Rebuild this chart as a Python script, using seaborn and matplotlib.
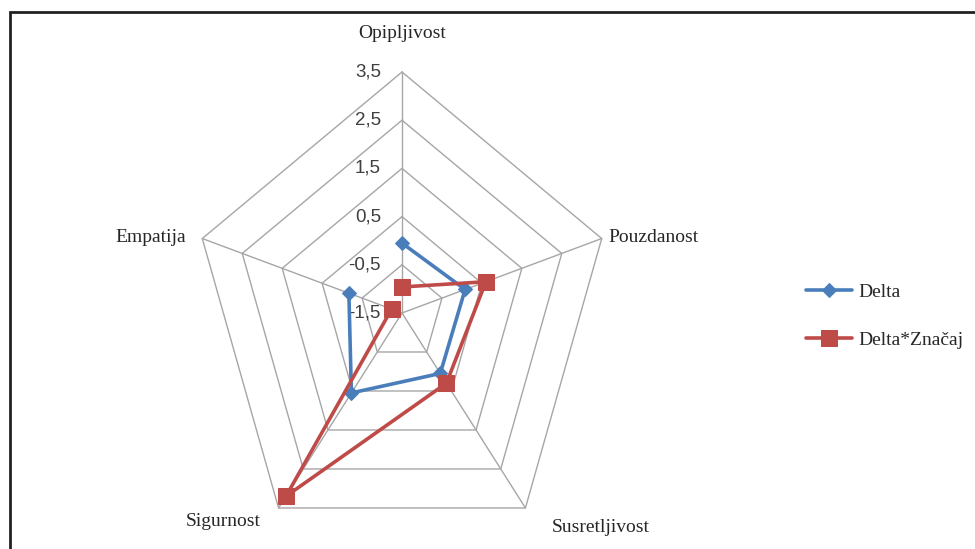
import matplotlib
matplotlib.use('Agg')
import matplotlib.pyplot as plt
import seaborn as sns
import numpy as np
import pandas as pd

categories = ['Opipljivost', 'Pouzdanost', 'Susretljivost', 'Sigurnost', 'Empatija']
delta = [-0.05, 0.08, 0.05, 0.55, -0.17]
delta_znacaj = [-0.96, 0.60, 0.30, 3.20, -1.24]
ring_values = [-1.5, -0.5, 0.5, 1.5, 2.5, 3.5]
ring_labels = ['-1,5', '-0,5', '0,5', '1,5', '2,5', '3,5']

sns.set_style('white')
plt.rcParams['font.family'] = ['Liberation Serif', 'DejaVu Serif']

VMIN = -1.5
angles = np.deg2rad(90 - 72 * np.arange(len(categories)))


def to_xy(values):
    r = np.asarray(values) - VMIN
    x = r * np.cos(angles)
    y = r * np.sin(angles)
    return np.append(x, x[0]), np.append(y, y[0])


fig = plt.figure(figsize=(9.75, 5.49), dpi=100)
ax = fig.add_axes([0, 0, 1, 1])
ax.set_xlim(-402 / 42, (975 - 402) / 42)
ax.set_ylim(-236 / 48.2, 313 / 48.2)
ax.axis('off')

# pentagon grid and spokes
grid_col = '#a6a6a6'
for v in ring_values[1:]:
    gx, gy = to_xy([v] * len(categories))
    ax.plot(gx, gy, color=grid_col, lw=1.0, zorder=1)
rmax = ring_values[-1] - VMIN
for a in angles:
    ax.plot([0, rmax * np.cos(a)], [0, rmax * np.sin(a)], color=grid_col, lw=1.0, zorder=1)

# radial tick labels
for v, lab in zip(ring_values, ring_labels):
    ax.text(-0.5, v - VMIN, lab, ha='right', va='center', fontsize=13.5,
            family=['Liberation Sans', 'DejaVu Sans'], color='#404040', zorder=2)

# series
rows = []
for name, vals in [('Delta', delta), ('Delta*Značaj', delta_znacaj)]:
    xs, ys = to_xy(vals)
    for i, (xx, yy) in enumerate(zip(xs, ys)):
        rows.append({'series': name, 'order': i, 'x': xx, 'y': yy})
df = pd.DataFrame(rows)

sns.lineplot(data=df[df.series == 'Delta'], x='x', y='y', sort=False, ax=ax,
             color='#4a7ebb', lw=2.6, marker='D', ms=7, mec='#4a7ebb',
             label='Delta', zorder=4)
sns.lineplot(data=df[df.series == 'Delta*Značaj'], x='x', y='y', sort=False, ax=ax,
             color='#be4b48', lw=2.6, marker='s', ms=11, mec='#be4b48',
             label='Delta*Značaj', zorder=5)

# category labels
fs = 14
ax.text(0, (313 - 33) / 48.2, 'Opipljivost', ha='center', va='center', fontsize=fs)
ax.text((608 - 402) / 42, (313 - 238) / 48.2, 'Pouzdanost', ha='left', va='center', fontsize=fs)
ax.text((601 - 402) / 42, (313 - 527) / 48.2, 'Susretljivost', ha='center', va='center', fontsize=fs)
ax.text((223 - 402) / 42, (313 - 522) / 48.2, 'Sigurnost', ha='center', va='center', fontsize=fs)
ax.text((186 - 402) / 42, (313 - 238) / 48.2, 'Empatija', ha='right', va='center', fontsize=fs)

ax.legend(loc='upper left', bbox_to_anchor=(788 / 975, 1 - 266 / 549), frameon=False,
          fontsize=14, labelspacing=1.55, handlelength=2.4, handletextpad=0.3)

# outer frame of the chart area
fig.add_artist(plt.Rectangle((10 / 975, -0.1), 1.2, 1 - 12 / 549 + 0.1,
                             transform=fig.transFigure, fill=False,
                             edgecolor='#222222', lw=2.0))

fig.savefig('out.png', dpi=100)
